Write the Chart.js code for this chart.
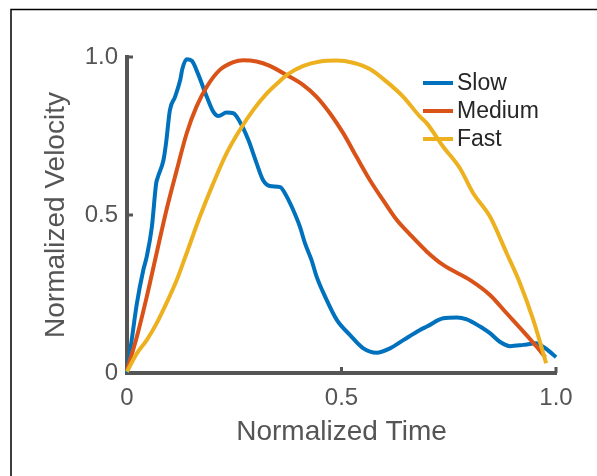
<!DOCTYPE html>
<html>
<head>
<meta charset="utf-8">
<script src="https://cdn.jsdelivr.net/npm/chart.js@4"></script>
<style>
  body { margin: 0; background: #fff; }
  #wrap { position: relative; width: 597px; height: 476px; }
</style>
</head>
<body>
<div id="wrap"><canvas id="velChart" width="597" height="476"></canvas></div>
<script>
// values
const seriesNames = ["Slow", "Medium", "Fast"];
const seriesColors = ["#0072BD", "#D95319", "#EDB120"];

const slowX = [0, 0.011, 0.023, 0.038, 0.046, 0.058, 0.068, 0.071, 0.085, 0.091, 0.100, 0.112, 0.124, 0.129, 0.139, 0.151, 0.166, 0.186, 0.201, 0.213, 0.232, 0.248, 0.263, 0.283, 0.302, 0.317, 0.333, 0.357, 0.368, 0.384, 0.403, 0.415, 0.430, 0.442, 0.462, 0.489, 0.520, 0.551, 0.582, 0.613, 0.644, 0.683, 0.699, 0.737, 0.769, 0.792, 0.823, 0.846, 0.869, 0.893, 0.924, 0.955, 0.970, 0.986, 1.0];
const slowY = [0, 0.105, 0.22, 0.326, 0.368, 0.463, 0.600, 0.616, 0.674, 0.727, 0.832, 0.874, 0.927, 0.962, 0.993, 0.988, 0.945, 0.874, 0.827, 0.813, 0.824, 0.822, 0.795, 0.737, 0.664, 0.611, 0.592, 0.588, 0.569, 0.526, 0.463, 0.410, 0.358, 0.305, 0.241, 0.168, 0.120, 0.078, 0.064, 0.078, 0.104, 0.136, 0.147, 0.173, 0.176, 0.170, 0.147, 0.126, 0.099, 0.085, 0.089, 0.094, 0.083, 0.067, 0.050];

const mediumX = [0, 0.023, 0.046, 0.069, 0.092, 0.116, 0.139, 0.162, 0.186, 0.217, 0.248, 0.271, 0.302, 0.333, 0.372, 0.411, 0.442, 0.473, 0.504, 0.535, 0.566, 0.597, 0.629, 0.660, 0.699, 0.737, 0.800, 0.846, 0.885, 0.924, 0.955, 0.975];
const mediumY = [0.01, 0.115, 0.241, 0.379, 0.516, 0.642, 0.758, 0.843, 0.906, 0.960, 0.984, 0.990, 0.986, 0.972, 0.943, 0.911, 0.874, 0.822, 0.759, 0.684, 0.611, 0.547, 0.484, 0.438, 0.384, 0.342, 0.294, 0.247, 0.189, 0.131, 0.083, 0.05];

const fastX = [0, 0.023, 0.046, 0.069, 0.092, 0.116, 0.139, 0.170, 0.201, 0.232, 0.263, 0.294, 0.326, 0.357, 0.372, 0.411, 0.450, 0.489, 0.527, 0.566, 0.605, 0.644, 0.683, 0.699, 0.737, 0.776, 0.807, 0.846, 0.885, 0.916, 0.947, 0.977];
const fastY = [0.004, 0.062, 0.104, 0.157, 0.221, 0.294, 0.379, 0.495, 0.600, 0.695, 0.769, 0.832, 0.885, 0.925, 0.943, 0.972, 0.986, 0.989, 0.982, 0.962, 0.922, 0.874, 0.811, 0.790, 0.716, 0.648, 0.569, 0.495, 0.379, 0.284, 0.168, 0.031];

const tickValues = [0, 0.5, 1];
const tickLabels = ["0", "0.5", "1.0"];

const FONT = '"Liberation Sans", Arial, sans-serif';
const AXIS_GRAY = "#555555";

function toPoints(xs, ys) {
  return xs.map((x, i) => ({ x: x, y: ys[i] }));
}
function tickText(v) {
  const i = tickValues.indexOf(v);
  return i >= 0 ? tickLabels[i] : "";
}

const allSeries = [toPoints(slowX, slowY), toPoints(mediumX, mediumY), toPoints(fastX, fastY)];

// frame, inward tick marks and the legend
const extrasPlugin = {
  id: "extras",
  afterDraw(chart) {
    const c = chart.ctx;
    const area = chart.chartArea;
    const xs = chart.scales.x;
    const ys = chart.scales.y;
    c.save();
    // figure frame (top and left edges only)
    c.strokeStyle = "#000";
    c.lineWidth = 1.5;
    c.beginPath();
    c.moveTo(11, 476);
    c.lineTo(11, 9.5);
    c.lineTo(597, 9.5);
    c.stroke();
    // ticks pointing into the plot
    c.strokeStyle = AXIS_GRAY;
    c.lineWidth = 3;
    tickValues.slice(1).forEach(v => {
      const py = ys.getPixelForValue(v);
      c.beginPath();
      c.moveTo(area.left, py);
      c.lineTo(area.left + 6, py);
      c.stroke();
      const px = xs.getPixelForValue(v);
      c.beginPath();
      c.moveTo(px, area.bottom);
      c.lineTo(px, area.bottom - 6);
      c.stroke();
    });
    // legend
    c.font = "23px " + FONT;
    c.textBaseline = "middle";
    c.textAlign = "left";
    seriesNames.forEach((name, i) => {
      const ly = area.top + 26 + i * 28;
      const lx = area.right - 133;
      c.strokeStyle = seriesColors[i];
      c.lineWidth = 4;
      c.beginPath();
      c.moveTo(lx, ly);
      c.lineTo(lx + 30, ly);
      c.stroke();
      c.fillStyle = "#262626";
      c.fillText(name, lx + 34, ly + 1);
    });
    c.restore();
  }
};

const ctx = document.getElementById("velChart").getContext("2d");

new Chart(ctx, {
  type: "line",
  data: {
    datasets: seriesNames.map((name, i) => ({
      label: name,
      data: allSeries[i],
      borderColor: seriesColors[i],
      backgroundColor: seriesColors[i],
      borderWidth: 4,
      pointRadius: 0,
      fill: false,
      clip: false,
      cubicInterpolationMode: "monotone",
      borderJoinStyle: "round",
      order: seriesNames.length - 1 - i,
    })),
  },
  options: {
    responsive: false,
    animation: false,
    layout: { padding: { top: 57, right: 41, left: 0, bottom: 0 } },
    plugins: { legend: { display: false }, tooltip: { enabled: false } },
    scales: {
      x: {
        type: "linear",
        min: 0,
        max: 1,
        afterFit: (s) => { s.height = 103; },
        grid: { drawOnChartArea: false, drawTicks: false },
        border: { color: AXIS_GRAY, width: 4 },
        ticks: {
          stepSize: 0.5,
          padding: 11,
          color: AXIS_GRAY,
          font: { family: FONT, size: 24 },
          maxRotation: 0,
          callback: (v) => tickText(v),
        },
        title: {
          display: true,
          text: "Normalized Time",
          color: AXIS_GRAY,
          font: { family: FONT, size: 28 },
          padding: { top: 0, bottom: 27 },
        },
      },
      y: {
        type: "linear",
        min: 0,
        max: 1,
        afterFit: (s) => { s.width = 127; },
        grid: { drawOnChartArea: false, drawTicks: false },
        border: { color: AXIS_GRAY, width: 4 },
        ticks: {
          stepSize: 0.5,
          padding: 9,
          color: AXIS_GRAY,
          font: { family: FONT, size: 24 },
          callback: (v) => tickText(v),
        },
        title: {
          display: true,
          text: "Normalized Velocity",
          color: AXIS_GRAY,
          font: { family: FONT, size: 28 },
          padding: { top: 39, bottom: 0 },
        },
      },
    },
  },
  plugins: [extrasPlugin],
});
</script>
</body>
</html>
